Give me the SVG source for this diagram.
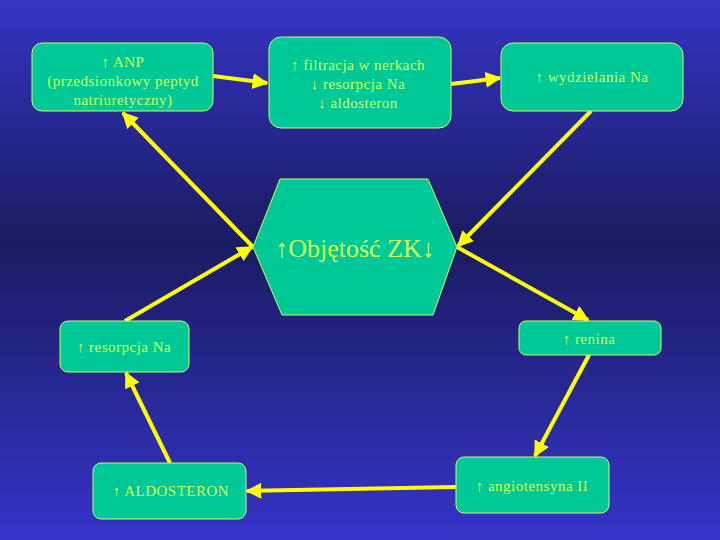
<svg xmlns="http://www.w3.org/2000/svg" width="720" height="540" viewBox="0 0 720 540">
<defs>
<linearGradient id="bg" x1="0" y1="0" x2="0" y2="1">
<stop offset="0" stop-color="#3434c4"/>
<stop offset="0.45" stop-color="#1b1b62"/>
<stop offset="1" stop-color="#3434c8"/>
</linearGradient>
<marker id="ah" viewBox="0 0 10 10" refX="9" refY="5" markerWidth="4" markerHeight="4" orient="auto" markerUnits="strokeWidth">
<path d="M0,0 L10,5 L0,10 z" fill="#ffff00"/>
</marker>
<style>
.box{fill:#00c896;stroke:#ccff66;stroke-width:1}
.t{font-family:"Liberation Serif","Times New Roman",serif;fill:#d2ff55;text-anchor:middle;font-size:15px;letter-spacing:0.5px}
.c{stroke:#ffff00;stroke-width:4;fill:none;marker-end:url(#ah)}
</style>
</defs>
<rect width="720" height="540" fill="url(#bg)"/>
<g id="connectors">
<line class="c" x1="213" y1="76" x2="267" y2="83"/>
<line class="c" x1="451" y1="84" x2="500" y2="78"/>
<line class="c" x1="591" y1="111" x2="458" y2="246"/>
<line class="c" x1="253" y1="247" x2="123" y2="113"/>
<line class="c" x1="125" y1="321" x2="252" y2="247"/>
<line class="c" x1="457" y1="247" x2="588" y2="320"/>
<line class="c" x1="589" y1="355" x2="535" y2="456"/>
<line class="c" x1="456" y1="487" x2="247" y2="491"/>
<line class="c" x1="170" y1="463" x2="126" y2="373"/>
</g>
<g id="anp">
<rect class="box" x="32" y="43" width="181" height="68" rx="10"/>
<text class="t" x="123" y="67">↑ ANP</text>
<text class="t" x="123" y="86">(przedsionkowy peptyd</text>
<text class="t" x="123" y="105">natriuretyczny)</text>
</g>
<g id="filtracja">
<rect class="box" x="269" y="37" width="182" height="91" rx="12"/>
<text class="t" x="358" y="70">↑ filtracja w nerkach</text>
<text class="t" x="358" y="89">↓ resorpcja Na</text>
<text class="t" x="358" y="108">↓ aldosteron</text>
</g>
<g id="wydzielania">
<rect class="box" x="501" y="43" width="182" height="68" rx="12"/>
<text class="t" x="592" y="82">↑ wydzielania Na</text>
</g>
<g id="objetosc">
<polygon class="box" points="280,179 428,179 457,247 433,315 282,315 253,247"/>
<text class="t" x="355" y="257" style="font-size:26px;letter-spacing:0">↑Objętość ZK↓</text>
</g>
<g id="resorpcja">
<rect class="box" x="60" y="321" width="129" height="51" rx="8"/>
<text class="t" x="124" y="352">↑ resorpcja Na</text>
</g>
<g id="renina">
<rect class="box" x="519" y="321" width="142" height="34" rx="7"/>
<text class="t" x="589" y="344">↑ renina</text>
</g>
<g id="aldosteron">
<rect class="box" x="93" y="463" width="153" height="56" rx="8"/>
<text class="t" x="171" y="496">↑ ALDOSTERON</text>
</g>
<g id="angiotensyna">
<rect class="box" x="456" y="457" width="153" height="56" rx="8"/>
<text class="t" x="532" y="491">↑ angiotensyna II</text>
</g>
</svg>
